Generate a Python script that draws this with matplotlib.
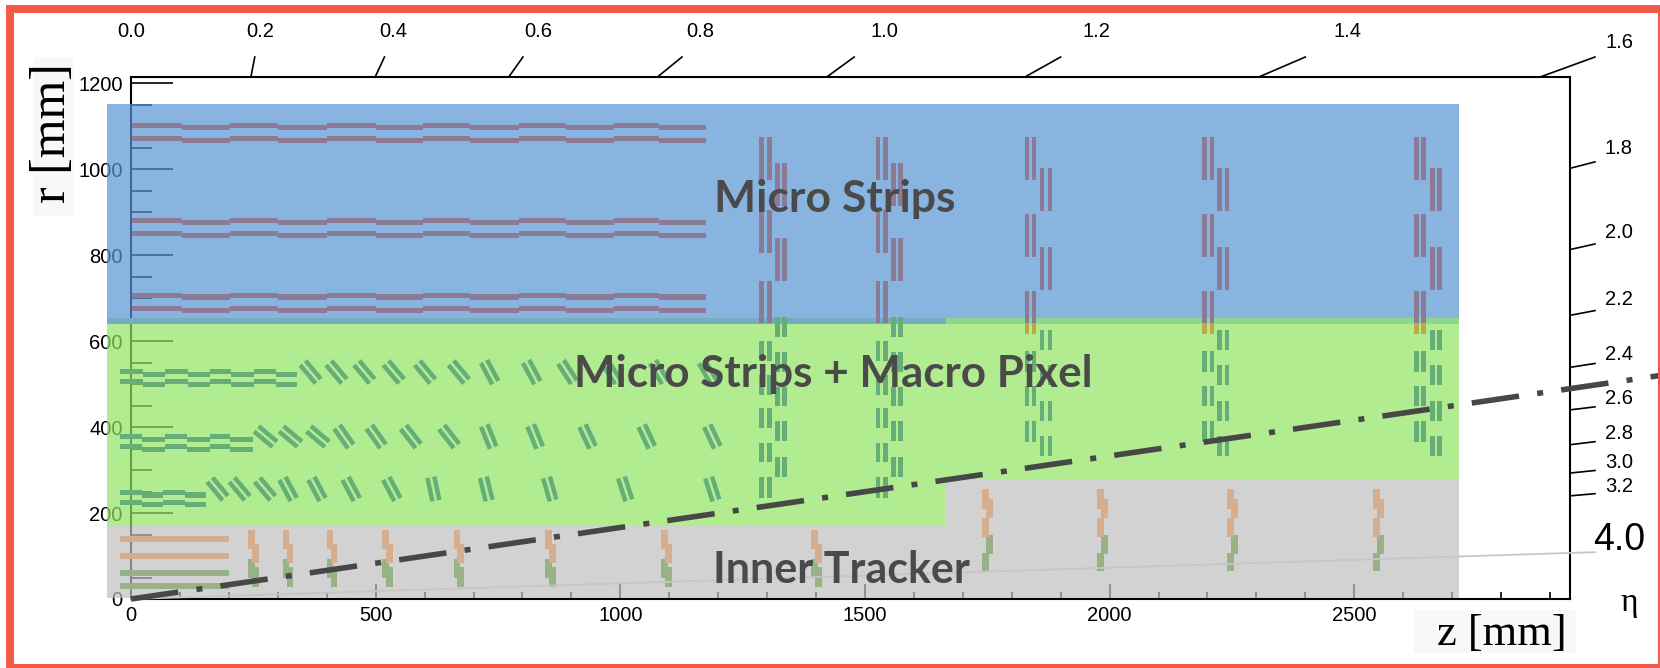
#!/usr/bin/env python3
"""
r-z layout of the tracker, with eta lines and the three sensor regions
"""

import math
import matplotlib
matplotlib.use('Agg')
import matplotlib.pyplot as plt
from matplotlib.patches import Rectangle

W, H = 1660, 668

# pixel scale of the axes, used for offsets of the tilted modules
PX_Z = 0.4893
PX_R = 0.4296

# axis ticks
z_major = [0, 500, 1000, 1500, 2000, 2500]
z_minor = [100, 200, 300, 400, 600, 700, 800, 900, 1100, 1200, 1300, 1400, 1600,
           1700, 1800, 1900, 2100, 2200, 2300, 2400, 2600, 2700, 2800, 2900]
r_major = [0, 200, 400, 600, 800, 1000, 1200]
r_minor = [50, 100, 150, 250, 300, 350, 450, 500, 550, 650, 700, 750, 850, 900,
           950, 1050, 1100, 1150]

# eta ticks on the top edge: label, z at the frame, z at the end of the tick
eta_top = ['0.2', '0.4', '0.6', '0.8', '1.0', '1.2', '1.4', '1.6']
eta_top_z0 = [245, 499, 772, 1076, 1422, 1827, 2305, 2880]
eta_top_z1 = [253, 518, 801, 1126, 1478, 1900, 2400, 2992]
eta_top_label_z = [264, 537, 833, 1163, 1539, 1974, 2487, 3043]

# eta ticks on the right edge: label, r at the frame, r at the end of the tick
eta_right = ['1.8', '2.0', '2.2', '2.4', '2.6', '2.8', '3.0', '3.2']
eta_right_r0 = [1002, 813, 660, 539, 440, 359, 293, 240]
eta_right_r1 = [1017, 826, 671, 548, 447, 366, 299, 245]
eta_right_label_r = [1048, 852, 697, 569, 466, 385, 318, 262]

# strip barrel
strip_edges = [2, 104, 203, 301, 400, 500, 597, 692, 793, 889, 987, 1079, 1175]
strip_rows = [1102, 1071, 880, 850, 707, 676]

# macro pixel flat barrel parts
mpx3_edges = [-22, 24, 69, 116, 161, 205, 252, 296, 340]
mpx3_rows = [530, 507]
mpx2_edges = [-22, 23, 69, 114, 161, 203, 250]
mpx2_rows = [378, 354]
mpx1_edges = [-22, 22, 66, 111, 154]
mpx1_rows = [248, 225]

# macro pixel tilted parts: z of the centre and tilt from the vertical
tilt3_z = [367, 420, 477, 537, 601, 670, 733, 819, 892, 982, 1079, 1179]
tilt3_a = [40, 40, 40, 40, 40, 40, 28, 28, 33, 33, 30, 30]
tilt2_z = [275, 326, 382, 435, 501, 572, 650, 731, 826, 933, 1054, 1188]
tilt2_a = [50, 50, 50, 35, 35, 38, 38, 22, 22, 25, 25, 25]
tilt1_z = [177, 222, 274, 321, 380, 450, 533, 618, 726, 856, 1010, 1188]
tilt1_a = [40, 40, 40, 28, 28, 28, 28, 12, 14, 16, 18, 18]
tilt_r = [528, 378, 256]

# strip endcap disks
early_z = [[1289, 1305, 1321, 1336], [1527, 1542, 1558, 1573]]
early_a_strip = [(1075, 975), (905, 805), (740, 642)]
early_b_strip = [(1014, 915), (840, 739)]
early_a_pixel = [(600, 554), (521, 475), (444, 397), (364, 318), (283, 236)]
early_b_pixel = [(655, 610), (574, 528), (494, 448), (414, 368), (331, 285)]

late_z = [[1831, 1846, 1862, 1878], [2194, 2209, 2225, 2240], [2627, 2642, 2660, 2674]]
late_a_strip = [(1075, 975), (896, 796), (716, 642)]
late_a_mixed = [(642, 616)]
late_b_strip = [(1002, 902), (819, 719)]
late_a_pixel = [(576, 529), (495, 449), (413, 366)]
late_b_pixel = [(627, 580), (545, 498), (461, 414), (379, 332)]

# inner tracker
it_rows_tan = [140, 101]
it_rows_green = [60, 30]
it_barrel_z = [-22, 201]
it_inner_z = [246, 317, 407, 520, 666, 853, 1091, 1397]
it_inner_tan = [(160, 116, 0), (128, 83, 1)]
it_inner_green = [(93, 49, 0), (74, 29, 1)]
it_outer_z = [1747, 1982, 2247, 2546]
it_outer_tan = [(255, 210, 0), (233, 188, 1), (188, 145, 0)]
it_outer_green = [(149, 105, 1), (108, 64, 0)]

# eta = 2.5 and eta = 4.0 lines
eta25_z = [0, 3125]
eta25_r = [0, 520]
eta40_z = [0, 2992]
eta40_r = [0, 109]

BLUE = '#5895d3'
GREEN = '#90e563'
GRAY = '#bfbfbf'
C_STRIP = '#8b7b96'
C_PIXEL = '#65ae78'
C_MIXED = '#bdaa45'
C_TAN = '#d5ae8f'
C_ITGREEN = '#96b286'
C_TEXT = '#4a4a4a'
SANS = 'Liberation Sans'
SERIF = 'Liberation Serif'

fig = plt.figure(figsize=(W / 100, H / 100), dpi=100)
ax = fig.add_axes([131 / W, 1 - 599 / H, 1439 / W, 522 / H])
ax.set_xlim(0, 2941)
ax.set_ylim(0, 1214.5)

for s in ax.spines.values():
    s.set_linewidth(1.5)

ax.set_xticks(z_major)
ax.set_xticks(z_minor, minor=True)
ax.set_yticks(r_major)
ax.set_yticks(r_minor, minor=True)
ax.tick_params(axis='x', which='major', direction='in', length=11, width=1.2, pad=5, labelsize=14.5)
ax.tick_params(axis='x', which='minor', direction='in', length=5, width=1.2)
ax.tick_params(axis='y', which='major', direction='in', length=30, width=1.2, pad=6, labelsize=14.5)
ax.tick_params(axis='y', which='minor', direction='in', length=15, width=1.2)
for lab in ax.get_xticklabels() + ax.get_yticklabels():
    lab.set_family(SANS)


def box(z0, z1, r0, r1, color, alpha=1.0, zorder=4):
    ax.add_patch(Rectangle((z0, r0), z1 - z0, r1 - r0, facecolor=color, edgecolor='none',
                           alpha=alpha, zorder=zorder, clip_on=False))


# regions, see-through so the axis and its labels show under them
box(-49, 2714, 654, 1152, BLUE, 0.7, 3)
box(-49, 2714, 276, 640, GREEN, 0.7, 3)
box(-49, 1666, 170, 276, GREEN, 0.7, 3)
box(-49, 1666, 3, 170, GRAY, 0.7, 3)
box(1666, 2714, 3, 276, GRAY, 0.7, 3)
box(-49, 1666, 640, 654, '#72aebf', 1.0, 3)
box(1666, 2714, 640, 654, '#8cd88c', 1.0, 3)


def barrel(edges, rows, step, color):
    for r in rows:
        for i in range(len(edges) - 1):
            off = step if i % 2 else 0
            box(edges[i], edges[i + 1], r - off - 6, r - off + 6, color)


barrel(strip_edges, strip_rows, 4.5, C_STRIP)
barrel(mpx3_edges, mpx3_rows, 7, C_PIXEL)
barrel(mpx2_edges, mpx2_rows, 6, C_PIXEL)
barrel(mpx1_edges, mpx1_rows, 6, C_PIXEL)

# tilted doublets, lengths are in pixels of the picture
for zs, angs, r in zip([tilt3_z, tilt2_z, tilt1_z], [tilt3_a, tilt2_a, tilt1_a], tilt_r):
    for z, a in zip(zs, angs):
        sn, cs = math.sin(math.radians(a)), math.cos(math.radians(a))
        for side in (-3.5, 3.5):
            zc = z + side * cs / PX_Z
            rc = r + side * sn / PX_R
            dz = 12 * sn / PX_Z
            dr = 12 * cs / PX_R
            ax.plot([zc - dz, zc + dz], [rc + dr, rc - dr], color=C_PIXEL, lw=3.2,
                    solid_capstyle='butt', zorder=4, clip_on=False)


def disk(zs, rows_a, rows_b, color):
    for z in zs[:2]:
        for top, bot in rows_a:
            box(z - 4.6, z + 4.6, bot, top, color)
    for z in zs[2:]:
        for top, bot in rows_b:
            box(z - 4.6, z + 4.6, bot, top, color)


for zs in early_z:
    disk(zs, early_a_strip, early_b_strip, C_STRIP)
    disk(zs, early_a_pixel, early_b_pixel, C_PIXEL)
for zs in late_z:
    disk(zs, late_a_strip, late_b_strip, C_STRIP)
    disk(zs, late_a_mixed, [], C_MIXED)
    disk(zs, late_a_pixel, late_b_pixel, C_PIXEL)

# inner tracker
for r in it_rows_green:
    box(it_barrel_z[0], it_barrel_z[1], r - 7, r + 7, C_ITGREEN)
for r in it_rows_tan:
    box(it_barrel_z[0], it_barrel_z[1], r - 7, r + 7, C_TAN)


def it_disk(z, rows, color):
    for top, bot, col in rows:
        box(z + col * 8 - 6.8, z + col * 8 + 6.8, bot, top, color)


for z in it_inner_z:
    it_disk(z, it_inner_green, C_ITGREEN)
    it_disk(z, it_inner_tan, C_TAN)
for z in it_outer_z:
    it_disk(z, it_outer_green, C_ITGREEN)
    it_disk(z, it_outer_tan, C_TAN)

# region names
ax.text(1439, 930, 'Micro Strips', family='Lato', weight='bold', fontsize=32, color=C_TEXT,
        ha='center', va='center', zorder=5)
ax.text(1436, 524, 'Micro Strips + Macro Pixel', family='Lato', weight='bold', fontsize=31.7,
        color=C_TEXT, ha='center', va='center', zorder=5)
ax.text(1451, 67, 'Inner Tracker', family='Lato', weight='bold', fontsize=31, color=C_TEXT,
        ha='center', va='center', zorder=5)

# eta lines
ax.plot(eta40_z, eta40_r, color='#c6c6c6', lw=1.3, zorder=4.5, clip_on=False)
ax.plot(eta25_z, eta25_r, color='#474747', lw=4, linestyle=(0, (8.6, 3.3, 1.08, 3.28)),
        dash_capstyle='butt', zorder=6, clip_on=False)

# eta ticks and labels
ax.text(0, 1321, '0.0', family=SANS, fontsize=14.5, ha='center', va='center')
for lab, z0, z1, zl in zip(eta_top, eta_top_z0, eta_top_z1, eta_top_label_z):
    ax.plot([z0, z1], [1214.5, 1261], color='black', lw=1.2, clip_on=False, zorder=2)
    ry = 1294 if lab == '1.6' else 1321
    ax.text(zl, ry, lab, family=SANS, fontsize=14.5, ha='center', va='center')
for lab, r0, r1, rl in zip(eta_right, eta_right_r0, eta_right_r1, eta_right_label_r):
    ax.plot([2941, 2992], [r0, r1], color='black', lw=1.2, clip_on=False, zorder=2)
    ax.text(3041, rl, lab, family=SANS, fontsize=14.5, ha='center', va='center')
ax.text(3041, 137, '4.0', family=SANS, fontsize=27, ha='center', va='center')
ax.text(3061, -9, 'η', family=SERIF, fontsize=24, ha='center', va='center')

# axis titles, pasted in on a pale box in the original
fig.add_artist(Rectangle((33 / W, 1 - 216 / H), 40 / W, 159 / H, transform=fig.transFigure,
                         facecolor='#f8f8f8', edgecolor='none', zorder=0))
fig.add_artist(Rectangle((1414 / W, 1 - 653 / H), 162 / W, 43 / H, transform=fig.transFigure,
                         facecolor='#f8f8f8', edgecolor='none', zorder=0))
fig.text(53 / W, 1 - 133 / H, 'r [mm]', family=SERIF, fontsize=36, rotation=90,
         ha='center', va='center')
fig.text(1502 / W, 1 - 634 / H, 'z [mm]', family=SERIF, fontsize=32, ha='center', va='center')

# red border around the whole picture
for x0, y0, w, h in [(6, 5, 1654, 8), (6, 664, 1654, 4), (6, 5, 8, 663), (1658, 5, 2, 663)]:
    fig.add_artist(Rectangle((x0 / W, 1 - (y0 + h) / H), w / W, h / H, transform=fig.transFigure,
                             facecolor='#f25a48', edgecolor='none', zorder=10))

plt.savefig('out.png', dpi=100)
